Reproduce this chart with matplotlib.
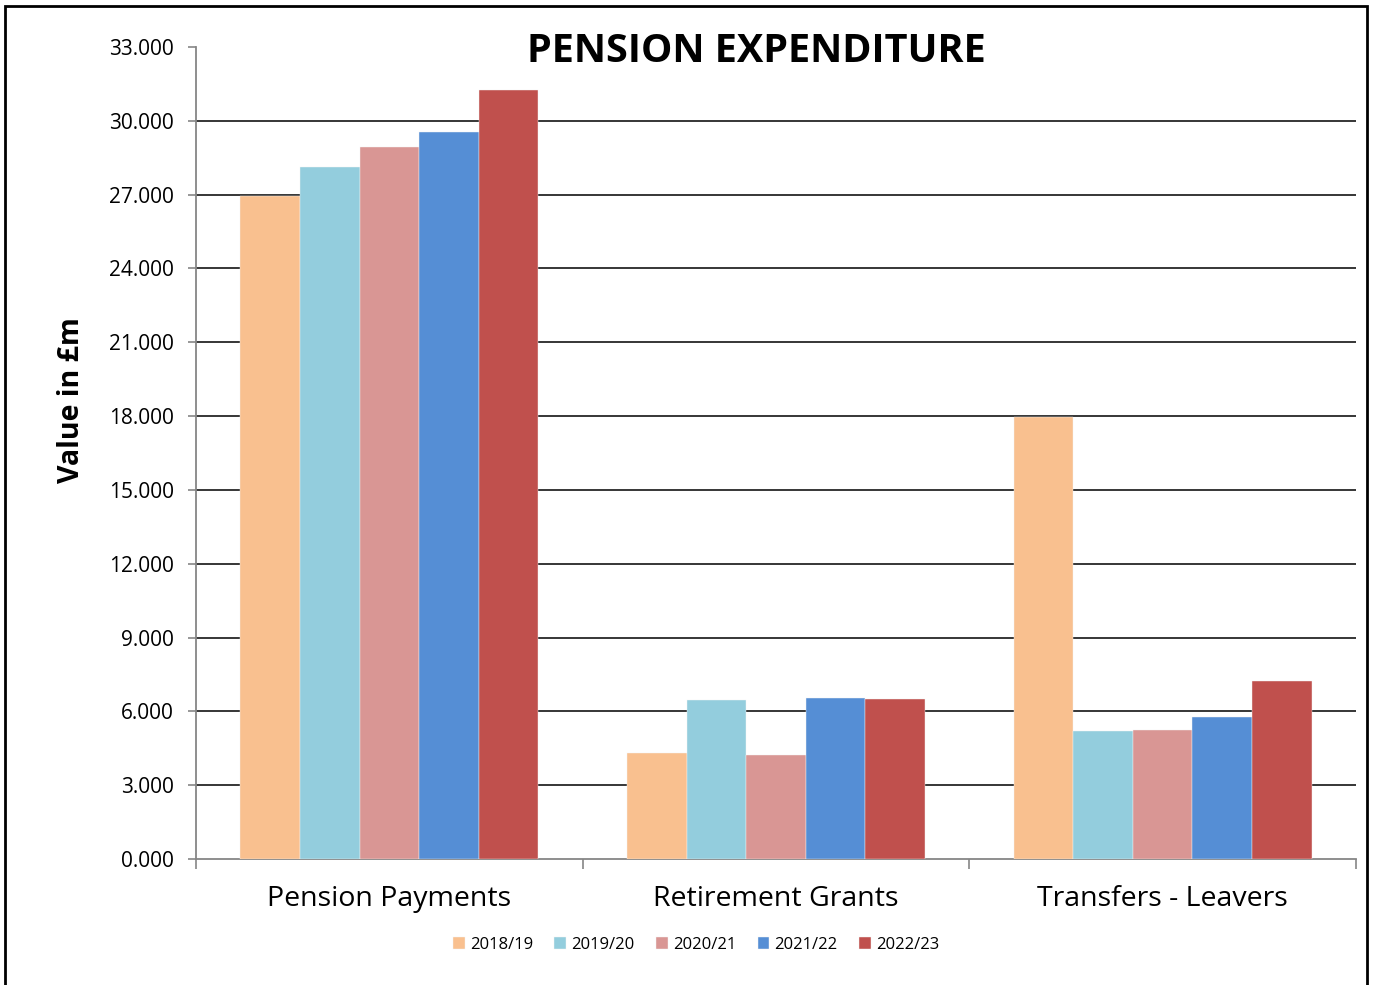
import matplotlib
matplotlib.use("Agg")
import matplotlib.pyplot as plt
import matplotlib.patches as mpatches
from matplotlib.ticker import FuncFormatter, FixedLocator
import numpy

plt.rcParams['font.family'] = ['Open Sans', 'DejaVu Sans']

categories = ["Pension Payments", "Retirement Grants", "Transfers - Leavers"]
years = ["2018/19", "2019/20", "2020/21", "2021/22", "2022/23"]
colors = ["#F9C08F", "#93CDDD", "#D99694", "#558ED5", "#C0504D"]

# values in £m (thousands shown with . separator)
v_2018 = [26950, 4310, 17960]
v_2019 = [28120, 6460, 5200]
v_2020 = [28940, 4230, 5240]
v_2021 = [29550, 6540, 5770]
v_2022 = [31250, 6500, 7230]
series = [v_2018, v_2019, v_2020, v_2021, v_2022]

yticks = [0, 3000, 6000, 9000, 12000, 15000, 18000, 21000, 24000, 27000, 30000, 33000]

fig = plt.figure(figsize=(13.76, 9.85), dpi=100)
ax = fig.add_axes([196 / 1376, 1 - 859 / 985, 1160 / 1376, 812 / 985])

x = numpy.arange(len(categories))
width = 0.154
for i, (vals, col, yr) in enumerate(zip(series, colors, years)):
    ax.bar(x + (i - 2) * width, vals, width, color=col, label=yr,
           edgecolor="#f4f4f4", linewidth=0.3, zorder=3)

for t in yticks[1:-1]:
    ax.axhline(t, color="black", linewidth=1.1, zorder=1)

ax.set_xlim(-0.5, 2.5)
ax.set_ylim(0, 33000)
ax.set_yticks(yticks)
ax.yaxis.set_major_formatter(FuncFormatter(lambda v, p: "{:.3f}".format(v / 1000)))
ax.tick_params(axis="y", labelsize=15, length=6, width=1.2, color="#868686", pad=10)

ax.set_xticks(x)
ax.set_xticklabels(categories, fontsize=20.5)
ax.tick_params(axis="x", which="major", length=0, pad=19)
ax.xaxis.set_minor_locator(FixedLocator([-0.5, 0.5, 1.5, 2.5]))
ax.tick_params(axis="x", which="minor", length=7, width=1.2, color="#868686")

for s in ["top", "right"]:
    ax.spines[s].set_visible(False)
for s in ["left", "bottom"]:
    ax.spines[s].set_color("#868686")
    ax.spines[s].set_linewidth(1.3)

ax.set_ylabel("Value in £m", fontsize=20.5, fontweight="bold", va="center")
ax.yaxis.set_label_coords(-0.107, 0.565)

fig.text(756 / 1376, 1 - 51 / 985, "PENSION EXPENDITURE", fontsize=28.5,
         fontweight="bold", ha="center", va="center")

fig.legend(loc="center", bbox_to_anchor=(696 / 1376, 1 - 945 / 985), ncol=5,
           frameon=False, fontsize=12, handlelength=0.7, handleheight=0.7,
           handletextpad=0.3, columnspacing=1.3)

frame = mpatches.Rectangle((5 / 1376, -0.05), 1362 / 1376, 1.05 - 6 / 985,
                           transform=fig.transFigure, fill=False,
                           edgecolor="black", linewidth=2, clip_on=False)
fig.patches.append(frame)

fig.savefig("out.png", dpi=100)
